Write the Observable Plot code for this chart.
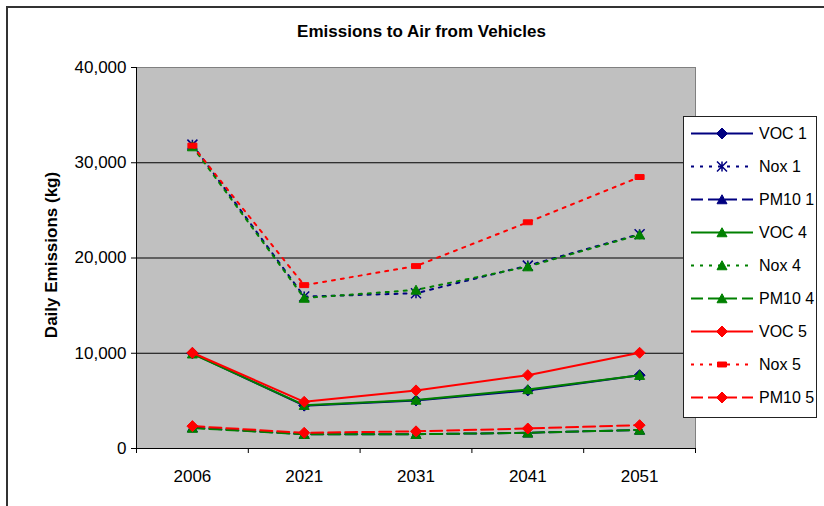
<!DOCTYPE html>
<html>
<head>
<meta charset="utf-8">
<script src="https://cdn.jsdelivr.net/npm/d3@7"></script>
<script src="https://cdn.jsdelivr.net/npm/@observablehq/plot@0.6"></script>
<style>
  html, body { margin: 0; padding: 0; background: #fff; }
  body { width: 824px; height: 506px; overflow: hidden; position: relative; font-family: "Liberation Sans", Arial, sans-serif; }
  #border { position: absolute; left: 6px; top: 6px; width: 900px; height: 600px; border: 2px solid #333; }
  #title { position: absolute; left: 0; top: 22px; width: 843px; text-align: center; font-weight: bold; font-size: 17px; line-height: 20px; color: #000; }
  #ylabel { position: absolute; left: 52px; top: 255px; transform: translate(-50%, -50%) rotate(-90deg); font-weight: bold; font-size: 17px; white-space: nowrap; color: #000; }
  #chart { position: absolute; left: 0; top: 0; }
  #legend { position: absolute; left: 683px; top: 116px; width: 134px; height: 302px; border: 1px solid #222; background: #fff; box-sizing: border-box; overflow: hidden; }
  .row { display: flex; align-items: center; height: 33px; white-space: nowrap; }
  .row svg { flex: none; }
  .row span { font-size: 16px; margin-left: 5px; color: #000; white-space: nowrap; }
</style>
</head>
<body>
<div id="border"></div>
<div id="chart"></div>
<div id="title">Emissions to Air from Vehicles</div>
<div id="ylabel">Daily Emissions (kg)</div>
<div id="legend"></div>
<script>
// ---- data ----
const years = ["2006", "2021", "2031", "2041", "2051"];
const seriesNames = ["VOC 1", "Nox 1", "PM10 1", "VOC 4", "Nox 4", "PM10 4", "VOC 5", "Nox 5", "PM10 5"];
const voc1  = [10000, 4500, 5050, 6100, 7700];
const nox1  = [31900, 15950, 16300, 19200, 22500];
const pm101 = [2200, 1500, 1500, 1650, 1950];
const voc4  = [9950, 4550, 5100, 6200, 7700];
const nox4  = [31700, 15800, 16650, 19100, 22450];
const pm104 = [2150, 1500, 1500, 1650, 1950];
const voc5  = [10050, 4900, 6100, 7700, 10050];
const nox5  = [31800, 17150, 19150, 23750, 28500];
const pm105 = [2350, 1650, 1800, 2100, 2450];
const yTicks = [0, 10000, 20000, 30000, 40000];

// ---- styles ----
const navy = "#000080", green = "#008000", red = "#ff0000";
const dotted = "3,6", dashed = "12,5";

const diamond = {draw(c, size) { const r = Math.sqrt(size / Math.PI); c.moveTo(0, -r); c.lineTo(r, 0); c.lineTo(0, r); c.lineTo(-r, 0); c.closePath(); }};
const triangle = {draw(c, size) { const r = Math.sqrt(size / Math.PI); c.moveTo(0, -r * 0.95); c.lineTo(r, r * 0.85); c.lineTo(-r, r * 0.85); c.closePath(); }};
const asterisk = {draw(c, size) { const r = Math.sqrt(size / Math.PI); c.moveTo(-r, -r); c.lineTo(r, r); c.moveTo(r, -r); c.lineTo(-r, r); c.moveTo(0, -r); c.lineTo(0, r); }};
const rect = {draw(c, size) { const r = Math.sqrt(size / Math.PI); c.moveTo(-r, -r * 0.55); c.lineTo(r, -r * 0.55); c.lineTo(r, r * 0.55); c.lineTo(-r, r * 0.55); c.closePath(); }};

const series = [
  {name: seriesNames[0], values: voc1,  color: navy,  dash: null,   symbol: diamond,  r: 5.5, hollow: false},
  {name: seriesNames[1], values: nox1,  color: navy,  dash: dotted, symbol: asterisk, r: 5,   hollow: true},
  {name: seriesNames[2], values: pm101, color: navy,  dash: dashed, symbol: triangle, r: 5,   hollow: false},
  {name: seriesNames[3], values: voc4,  color: green, dash: null,   symbol: triangle, r: 5,   hollow: false},
  {name: seriesNames[4], values: nox4,  color: green, dash: dotted, symbol: triangle, r: 5,   hollow: false},
  {name: seriesNames[5], values: pm104, color: green, dash: dashed, symbol: triangle, r: 5,   hollow: false},
  {name: seriesNames[6], values: voc5,  color: red,   dash: null,   symbol: diamond,  r: 5.5, hollow: false},
  {name: seriesNames[7], values: nox5,  color: red,   dash: dotted, symbol: rect,     r: 4.5, hollow: false},
  {name: seriesNames[8], values: pm105, color: red,   dash: dashed, symbol: diamond,  r: 5.5, hollow: false}
];

const marks = [
  Plot.frame({fill: "#c0c0c0", stroke: "#808080"}),
  Plot.gridY(yTicks.filter(t => t > 0 && t < 40000), {stroke: "#000", strokeOpacity: 1, strokeWidth: 1})
];
for (const s of series) {
  const data = s.values.map((v, i) => ({i, v}));
  marks.push(Plot.line(data, {x: "i", y: "v", stroke: s.color, strokeWidth: 2, strokeDasharray: s.dash || undefined, strokeLinejoin: "miter"}));
  marks.push(Plot.dot(data, s.hollow
    ? {x: "i", y: "v", symbol: s.symbol, r: s.r, fill: "none", stroke: s.color, strokeWidth: 1.5}
    : {x: "i", y: "v", symbol: s.symbol, r: s.r, fill: s.color, stroke: s.color, strokeWidth: 1}));
}
const xBounds = d3.range(years.length + 1).map(i => i - 0.5);
marks.push(
  Plot.ruleX([xBounds[0]], {stroke: "#000"}),
  Plot.ruleY([0], {stroke: "#000"}),
  Plot.axisY({ticks: yTicks, tickFormat: d3.format(","), tickSize: 5, tickPadding: 5, fontSize: 17, label: null, stroke: "#000"}),
  Plot.axisX({ticks: xBounds, tickFormat: () => "", tickSize: 5, label: null, stroke: "#000"}),
  Plot.axisX({ticks: d3.range(years.length), tickFormat: i => years[i], tickSize: 0, tickPadding: 21, fontSize: 17, label: null})
);

const chart = Plot.plot({
  width: 824, height: 506,
  marginLeft: 136, marginRight: 129, marginTop: 67, marginBottom: 58,
  style: {fontFamily: "'Liberation Sans', Arial, sans-serif", color: "#000", background: "transparent", overflow: "visible"},
  x: {type: "linear", domain: [xBounds[0], xBounds[xBounds.length - 1]]},
  y: {domain: [0, 40000]},
  marks
});
document.getElementById("chart").appendChild(chart);

// ---- legend ----
const legend = d3.select("#legend");
for (const s of series) {
  const row = legend.append("div").attr("class", "row");
  const svg = row.append("svg").attr("width", 70).attr("height", 33);
  svg.append("line").attr("x1", 7).attr("x2", 69).attr("y1", 16.5).attr("y2", 16.5)
    .attr("stroke", s.color).attr("stroke-width", 2).attr("stroke-dasharray", s.dash);
  svg.append("path").attr("transform", "translate(38,16.5)")
    .attr("d", d3.symbol(s.symbol, s.r * s.r * Math.PI)())
    .attr("fill", s.hollow ? "none" : s.color).attr("stroke", s.color).attr("stroke-width", s.hollow ? 1.5 : 1);
  row.append("span").text(s.name);
}
</script>
</body>
</html>
